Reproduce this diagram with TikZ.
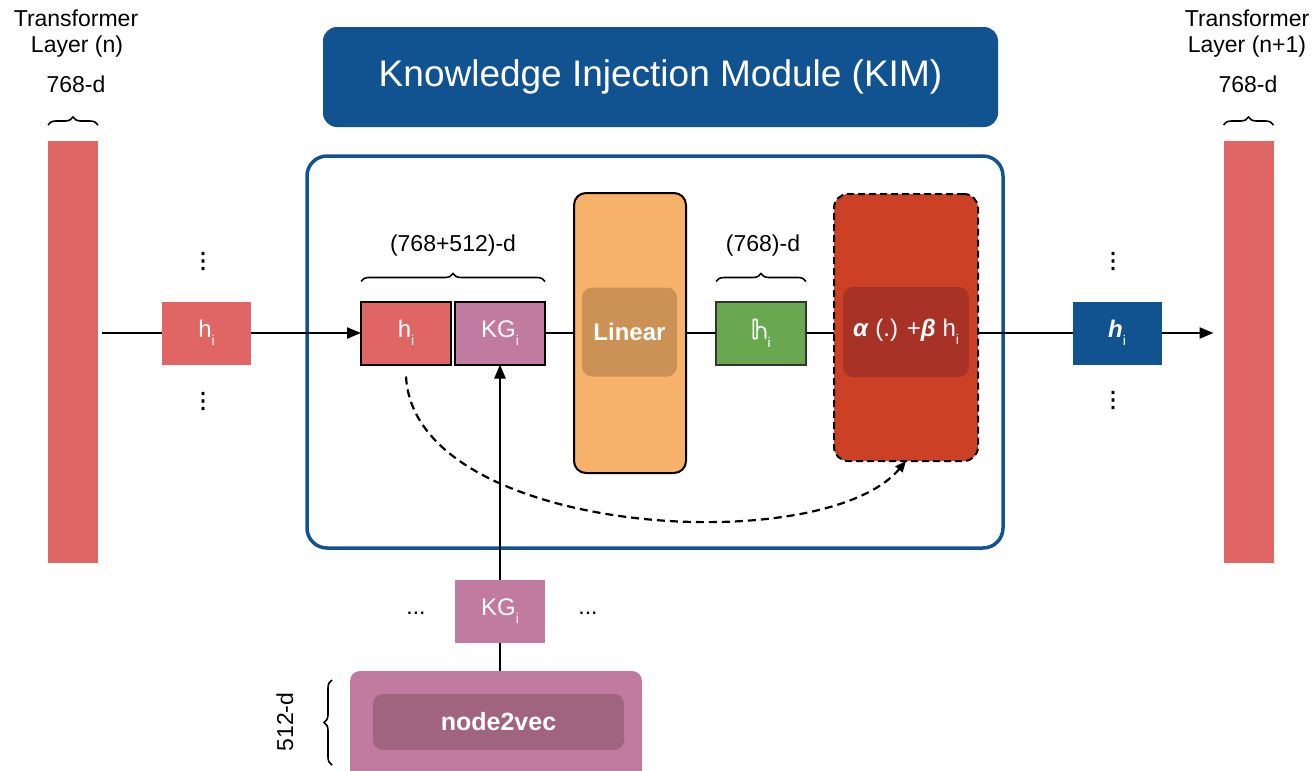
\documentclass[tikz,border=0pt]{standalone}
\usepackage{fontspec}
\setmainfont{Liberation Sans}
\newfontfamily\bbfont[FakeBold=1.5]{latinmodern-math.otf}
\newfontfamily\djv[FakeBold=2.5]{DejaVu Sans}
\usetikzlibrary{arrows.meta,decorations.pathreplacing,calc}
\definecolor{barred}{RGB}{224,102,102}
\definecolor{kimblue}{RGB}{17,83,145}
\definecolor{kgpink}{RGB}{194,123,160}
\definecolor{nvinner}{RGB}{160,100,127}
\definecolor{linorange}{RGB}{246,178,107}
\definecolor{lininner}{RGB}{204,145,85}
\definecolor{hgreen}{RGB}{106,168,79}
\definecolor{gatered}{RGB}{204,65,37}
\definecolor{gateinner}{RGB}{169,50,38}
\newcommand\subi{\raisebox{-8pt}{\fontsize{14}{14}\selectfont i}}
\begin{document}
\begin{tikzpicture}[x=1pt,y=-1pt,
  every node/.style={inner sep=0pt, outer sep=0pt},
  lbl/.style={font=\fontsize{23}{25}\selectfont, align=center},
  vecbox/.style={minimum width=90pt, minimum height=63pt, font=\fontsize{24}{24}\selectfont, text=white},
  conn/.style={line width=2.2pt},
  arr/.style={conn, -{Triangle[length=14pt,width=11pt]}},
  brc/.style={decorate, decoration={brace, amplitude=8pt}, line width=1.6pt},
  tbar/.style={fill=barred, minimum width=50pt, minimum height=422pt},
  vdot/.style={font=\djv\fontsize{22}{22}\selectfont},
]
\useasboundingbox (0,0) rectangle (1315,771);

% transformer layers
\node[tbar] (barL) at (73,352) {};
\node[tbar] (barR) at (1248.5,352) {};
\node[lbl, anchor=base] (tl1) at (76,27) {Transformer};
\node[lbl, anchor=base] (tl2) at (77,52) {Layer (n)};
\node[lbl, anchor=base] (dL) at (76,92) {768-d};
\node[lbl, anchor=base] (tr1) at (1247,27) {Transformer};
\node[lbl, anchor=base] (tr2) at (1247,52) {Layer (n+1)};
\node[lbl, anchor=base] (dR) at (1248,92) {768-d};
\draw[brc] ([yshift=16pt]barL.north west) -- ([yshift=16pt]barL.north east);
\draw[brc] ([yshift=16pt]barR.north west) -- ([yshift=16pt]barR.north east);

% title
\node[fill=kimblue, rounded corners=14pt, minimum width=675pt, minimum height=100pt,
      text=white, font=\fontsize{37}{37}\selectfont] (title) at (660.5,77) {Knowledge Injection Module (KIM)};

% module frame
\node[draw=kimblue, line width=3.5pt, rounded corners=20pt, minimum width=696pt, minimum height=392pt] (kim) at (655,352) {};

% vectors
\node[vecbox, fill=barred, minimum width=89pt] (hL) at (206.5,333) {h\subi};
\node[vdot] (vd1) at (203,261) {⋮};
\node[vdot] (vd2) at (203,401) {⋮};

\node[vecbox, fill=barred, draw=black, line width=2pt] (hc) at (406,333) {h\subi};
\node[vecbox, fill=kgpink, draw=black, line width=2pt] (kg) at (500,333) {KG\subi};
\draw[brc] ([yshift=20pt]hc.north west) -- ([yshift=20pt]kg.north east);
\node[lbl, anchor=base] (dcat) at (453,251) {(768+512)-d};

\node[fill=linorange, draw=black, line width=2pt, rounded corners=12pt, minimum width=112pt, minimum height=280pt] (lin) at (630,333) {};
\node[fill=lininner, rounded corners=10pt, minimum width=95pt, minimum height=89pt,
      text=white, font=\bfseries\fontsize{24}{24}\selectfont] (linin) at (629.5,332) {Linear};

\node[vecbox, fill=hgreen, draw=black!80, line width=2pt] (hg) at (761,333) {{\bbfont\fontsize{29}{29}\selectfont 𝕙}\subi};
\draw[brc] ([yshift=20pt]hg.north west) -- ([yshift=20pt]hg.north east);
\node[lbl, anchor=base] (dg) at (763,251) {(768)-d};

\node[fill=gatered, draw=black, line width=2pt, dash pattern=on 7pt off 4pt, rounded corners=14pt,
      minimum width=144pt, minimum height=267pt] (gate) at (906,327.5) {};
\node[fill=gateinner, rounded corners=10pt, minimum width=126pt, minimum height=90pt,
      text=white, font=\fontsize{24}{24}\selectfont] (gatein) at (906,332) {\textbf{\textit{α}} (.) +\textbf{\textit{β}} h\subi};

\node[vecbox, fill=kimblue, minimum width=89pt] (hb) at (1117,333) {\textbf{\textit{h}}\subi};
\node[vdot] (vd3) at (1113,261) {⋮};
\node[vdot] (vd4) at (1113,400) {⋮};

% knowledge graph input
\node[vecbox, fill=kgpink] (kgb) at (500,611) {KG\subi};
\node[lbl] (hd1) at (416,613) {...};
\node[lbl] (hd2) at (588,613) {...};
\node[fill=kgpink, rounded corners=10pt, minimum width=292pt, minimum height=110pt] (nv) at (496,726) {};
\node[fill=nvinner, rounded corners=10pt, minimum width=251pt, minimum height=56pt,
      text=white, font=\bfseries\fontsize{25}{25}\selectfont] (nvin) at (498.5,722) {node2vec};
\draw[brc] ($(nv.west)+(-18,39)$) -- ($(nv.west)+(-18,-46)$);
\node[lbl, rotate=90] (d512) at (285,722) {512-d};

% connectors
\draw[conn, shorten <=4pt] (barL.east |- hL.west) -- (hL.west);
\draw[arr] (hL.east) -- (hc.west);
\draw[conn] (kg.east) -- (lin.west |- kg.east);
\draw[conn] (lin.east |- hg.west) -- (hg.west);
\draw[conn] (hg.east) -- (gate.west |- hg.east);
\draw[conn] (gate.east |- hb.west) -- (hb.west);
\draw[arr, shorten >=10pt] (hb.east) -- (barR.west |- hb.east);
\draw[arr] (kgb.north) -- (kg.south);
\draw[conn] (nv.north -| kgb.south) -- (kgb.south);
\draw[conn, dash pattern=on 8pt off 5pt, -{Triangle[length=11pt,width=9pt]}]
  ([yshift=-12pt]hc.south) to[out=-87, in=-130, out distance=160pt, in distance=130pt] (gate.south);
\end{tikzpicture}
\end{document}
